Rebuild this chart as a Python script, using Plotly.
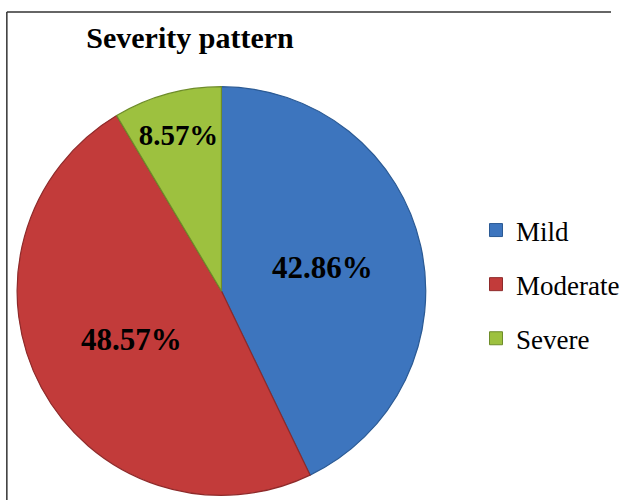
import plotly.graph_objects as go

categories = ["Mild", "Moderate", "Severe"]
percentages = [42.86, 48.57, 8.57]
colors = ["#3D75BE", "#C23B3A", "#9DC13F"]
edge_colors = ["#2B5A94", "#8E2A2A", "#6E8C2A"]

W, H = 625, 500

fig = go.Figure()
fig.add_trace(go.Pie(
    labels=categories,
    values=percentages,
    sort=False,
    direction="clockwise",
    rotation=0,
    marker=dict(colors=colors, line=dict(color=edge_colors, width=1.2)),
    texttemplate="%{value:.2f}%",
    textposition="inside",
    insidetextorientation="horizontal",
    textfont=dict(family="Liberation Serif", size=31, color="black", weight="bold"),
    domain=dict(x=[17.5 / W, 435.5 / W], y=[0, 418 / H]),
    showlegend=False,
    hoverinfo="label+percent",
))

# legend entries via placeholder traces (one per category)
for cat, col, ec in zip(categories, colors, edge_colors):
    fig.add_trace(go.Scatter(
        x=[None], y=[None], mode="markers", name=cat,
        legendgroup=cat,
        marker=dict(symbol="square", size=13, color=col, line=dict(color=ec, width=1)),
    ))

fig.update_layout(
    width=W, height=H,
    margin=dict(l=0, r=0, t=0, b=0),
    paper_bgcolor="white", plot_bgcolor="white",
    xaxis=dict(visible=False), yaxis=dict(visible=False),
    title=dict(text="<b>Severity pattern</b>", x=190 / W, xanchor="center",
               y=1 - 37 / H, yanchor="middle",
               font=dict(family="Liberation Serif", size=30, color="black")),
    legend=dict(x=487 / W, y=1 - 206 / H, xanchor="left", yanchor="top",
                font=dict(family="Liberation Serif", size=27, color="black"),
                tracegroupgap=16, itemwidth=30, bgcolor="rgba(0,0,0,0)"),
    shapes=[
        dict(type="line", xref="paper", yref="paper", x0=7 / W, x1=1, y0=1 - 12 / H, y1=1 - 12 / H,
             line=dict(color="#333333", width=1.5)),
        dict(type="line", xref="paper", yref="paper", x0=7 / W, x1=7 / W, y0=0, y1=1 - 12 / H,
             line=dict(color="#333333", width=1.5)),
    ],
)

fig.write_html("out.html")
